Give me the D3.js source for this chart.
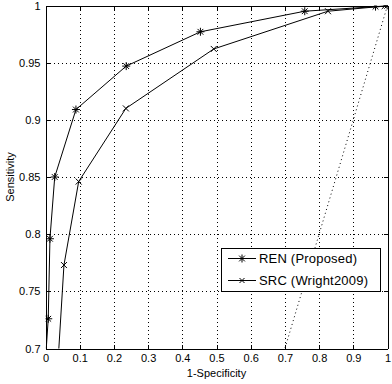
<!DOCTYPE html>
<html><head><meta charset="utf-8">
<script src="https://cdn.jsdelivr.net/npm/d3@7"></script>
<style>
html,body{margin:0;padding:0;background:#fff;}
svg{display:block;}
text{font-family:"Liberation Sans",Arial,Helvetica,sans-serif;fill:#000;}
</style></head>
<body><svg id="c" width="392" height="384"></svg>
<script>
const renFpr = [0.0, 0.008, 0.013, 0.027, 0.089, 0.236, 0.453, 0.758, 0.965, 1.0];
const renTpr = [0.69, 0.726, 0.796, 0.850, 0.909, 0.947, 0.977, 0.995, 0.999, 1.0];
const srcFpr = [0.0, 0.054, 0.097, 0.235, 0.492, 0.826, 0.992, 1.0];
const srcTpr = [0.51, 0.773, 0.846, 0.910, 0.962, 0.995, 0.9995, 1.0];
const chanceFpr = [0, 1];
const chanceTpr = [0, 1];
const xTicks = [0,0.1,0.2,0.3,0.4,0.5,0.6,0.7,0.8,0.9,1];
const yTicks = [0.7,0.75,0.8,0.85,0.9,0.95,1];
const seriesNames = ["REN (Proposed)", "SRC (Wright2009)"];
const xLabel = "1-Specificity";
const yLabel = "Sensitivity";

const L = 45.5, R = 387.5, T = 5.5, B = 348.5;
const svg = d3.select("#c");
const x = d3.scaleLinear().domain([0,1]).range([L,R]);
const y = d3.scaleLinear().domain([0.7,1]).range([B,T]);

svg.append("defs").append("clipPath").attr("id","clip")
  .append("rect").attr("x",L).attr("y",T).attr("width",R-L).attr("height",B-T);

// grid
const g = svg.append("g");
g.selectAll(".gx").data(xTicks.slice(1,-1)).enter().append("line")
  .attr("x1",d=>Math.round(x(d))+0.5).attr("x2",d=>Math.round(x(d))+0.5)
  .attr("y1",T).attr("y2",B)
  .attr("stroke","#000").attr("stroke-dasharray","1,3").attr("shape-rendering","crispEdges");
g.selectAll(".gy").data(yTicks.slice(1,-1)).enter().append("line")
  .attr("y1",d=>Math.round(y(d))+0.5).attr("y2",d=>Math.round(y(d))+0.5)
  .attr("x1",L).attr("x2",R)
  .attr("stroke","#000").attr("stroke-dasharray","1,3").attr("shape-rendering","crispEdges");

// axes (ticks inside)
const tl = 4;
const fmt = d => String(+d.toFixed(2));
const axB = svg.append("g").attr("transform",`translate(0,${B})`)
  .call(d3.axisBottom(x).tickValues(xTicks).tickFormat(fmt).tickSizeInner(-tl).tickSizeOuter(0).tickPadding(6));
const axT = svg.append("g").attr("transform",`translate(0,${T})`)
  .call(d3.axisTop(x).tickValues(xTicks).tickFormat("").tickSizeInner(-tl).tickSizeOuter(0));
const axL = svg.append("g").attr("transform",`translate(${L},0)`)
  .call(d3.axisLeft(y).tickValues(yTicks).tickFormat(fmt).tickSizeInner(-tl).tickSizeOuter(0).tickPadding(5));
const axR = svg.append("g").attr("transform",`translate(${R},0)`)
  .call(d3.axisRight(y).tickValues(yTicks).tickFormat("").tickSizeInner(-tl).tickSizeOuter(0));
[axB,axT,axL,axR].forEach(a=>{
  a.attr("font-family",null).attr("font-size",null);
  a.selectAll("path,line").attr("stroke","#000").attr("shape-rendering","crispEdges");
  a.selectAll("text").style("font-size","11px").attr("fill","#000");
});
axB.selectAll("text").attr("dy","0.71em");

const plot = svg.append("g").attr("clip-path","url(#clip)");
const line = d3.line().x(d=>x(d[0])).y(d=>y(d[1]));

// chance line
plot.append("path").datum(d3.zip(chanceFpr,chanceTpr)).attr("d",line)
  .attr("fill","none").attr("stroke","#000").attr("stroke-dasharray","1,3");

function star(sel, s){
  sel.append("path").attr("d",`M${-s},0H${s}M0,${-s}V${s}M${-s*0.72},${-s*0.72}L${s*0.72},${s*0.72}M${-s*0.72},${s*0.72}L${s*0.72},${-s*0.72}`)
    .attr("stroke","#000").attr("stroke-width",1).attr("fill","none");
}
function cross(sel, s){
  sel.append("path").attr("d",`M${-s},${-s}L${s},${s}M${-s},${s}L${s},${-s}`)
    .attr("stroke","#000").attr("stroke-width",1).attr("fill","none");
}

const ren = d3.zip(renFpr, renTpr);
const src = d3.zip(srcFpr, srcTpr);
plot.append("path").datum(src).attr("d",line).attr("fill","none").attr("stroke","#000").attr("stroke-width",1);
plot.append("path").datum(ren).attr("d",line).attr("fill","none").attr("stroke","#000").attr("stroke-width",1);
plot.selectAll(".ms").data(src).enter().append("g")
  .attr("transform",d=>`translate(${x(d[0])},${y(d[1])})`).each(function(){cross(d3.select(this),3);});
plot.selectAll(".mr").data(ren).enter().append("g")
  .attr("transform",d=>`translate(${x(d[0])},${y(d[1])})`).each(function(){star(d3.select(this),4);});

// labels
svg.append("text").attr("x",(L+R)/2).attr("y",377).attr("text-anchor","middle")
  .style("font-size","11px").text(xLabel);
svg.append("text").attr("transform",`translate(14,${(T+B)/2}) rotate(-90)`).attr("text-anchor","middle")
  .style("font-size","11px").text(yLabel);

// legend
const lg = svg.append("g");
lg.append("rect").attr("x",221.5).attr("y",248.5).attr("width",159).attr("height",43)
  .attr("fill","#fff").attr("stroke","#000").attr("shape-rendering","crispEdges");
const rows = [{n:seriesNames[0], m:star, s:4, yy:258}, {n:seriesNames[1], m:cross, s:2.5, yy:280}];
rows.forEach(r=>{
  lg.append("line").attr("x1",228).attr("x2",256).attr("y1",r.yy+0.5).attr("y2",r.yy+0.5)
    .attr("stroke","#000").attr("shape-rendering","crispEdges");
  const mg = lg.append("g").attr("transform",`translate(242,${r.yy+0.5})`);
  r.m(mg, r.s);
  lg.append("text").attr("x",259).attr("y",r.yy+5).style("font-size","13px")
    .style("letter-spacing","0.2px").text(r.n);
});
</script></body></html>
